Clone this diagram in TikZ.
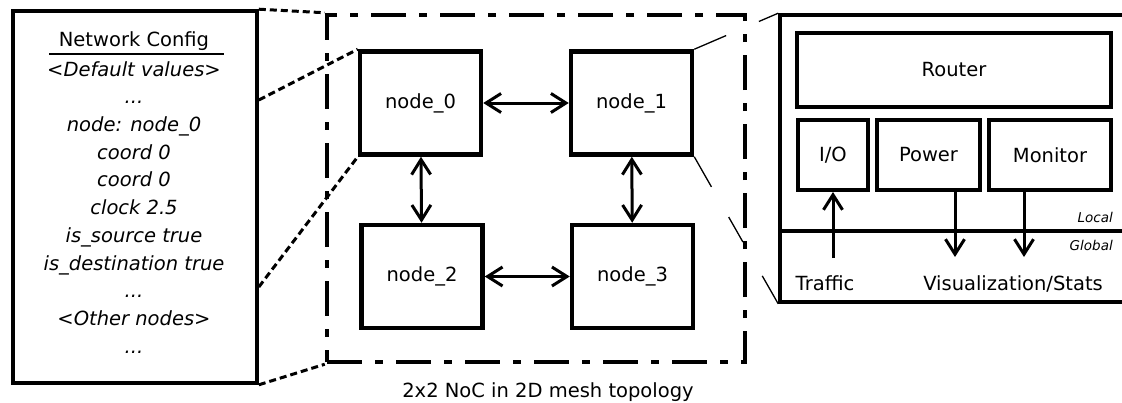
\documentclass[tikz,border=0pt]{standalone}
\usepackage{fontspec}
\setmainfont{DejaVu Sans}
\usetikzlibrary{arrows.meta,calc}
\begin{document}
\begin{tikzpicture}[x=1pt,y=-1pt,
  txt/.style={inner sep=0pt, font=\fontsize{19.5}{23}\selectfont},
  cfgline/.style={inner sep=0pt, anchor=base, font=\fontsize{19.5}{23}\selectfont\itshape},
  small/.style={inner sep=0pt, anchor=base east, font=\fontsize{13.5}{16}\selectfont\itshape},
  cfgbox/.style={draw, line width=3.6pt, minimum width=244pt, minimum height=372pt},
  meshbox/.style={draw, line width=4.5pt, dash pattern=on 35pt off 13pt on 8pt off 13pt, minimum width=418pt, minimum height=347pt},
  nocbox/.style={draw, line width=4.5pt, minimum width=121pt, minimum height=103pt, font=\fontsize{19.5}{23}\selectfont},
  rbox/.style={draw, line width=3.6pt, minimum width=360pt, minimum height=287pt},
  unitbox/.style={draw, line width=4pt, minimum height=70pt, font=\fontsize{19.5}{23}\selectfont},
  dashlink/.style={line width=3pt, dash pattern=on 7pt off 4pt},
  thinlink/.style={line width=1.3pt},
  tip/.style={Straight Barb[length=15pt,width=19pt]},
  arr/.style={line width=3pt, -{Straight Barb[length=15pt,width=19pt]}},
  darr/.style={line width=3pt, {Straight Barb[length=15pt,width=19pt]}-{Straight Barb[length=15pt,width=19pt]}}
]
\useasboundingbox (0,0) rectangle (1122,402);

% configuration panel
\node[cfgbox] (cfg) at (135,197) {};
\node[txt, anchor=base] (title) at (134,46.5) {Network Config};
\draw[line width=1.1pt] (49,54) -- (224,54);
\node[cfgline] (l1) at (134,76) {<Default values>};
\node[cfgline] (l2) at (134,103.7) {...};
\node[cfgline] (l3) at (134,131.4) {node: node\_0};
\node[cfgline] (l4) at (134,159) {coord 0};
\node[cfgline] (l5) at (134,186.8) {coord 0};
\node[cfgline] (l6) at (134,214.5) {clock 2.5};
\node[cfgline] (l7) at (134,242.2) {is\_source true};
\node[cfgline] (l8) at (134,270) {is\_destination true};
\node[cfgline] (l9) at (134,297.6) {...};
\node[cfgline] (l10) at (134,325.3) {<Other nodes>};
\node[cfgline] (l11) at (134,353) {...};

% mesh
\node[meshbox] (mesh) at (536,188.5) {};
\node[nocbox] (n0) at (420.5,103) {node\_0};
\node[nocbox] (n1) at (631.5,103) {node\_1};
\node[nocbox] (n2) at (422,276.5) {node\_2};
\node[nocbox] (n3) at (632.5,276.5) {node\_3};
\draw[darr] (n0) -- (n1);
\draw[darr] (n2) -- (n3);
\draw[darr] (n0) -- (n2);
\draw[darr] (n1) -- (n3);
\node[txt, anchor=base] (cap) at (548,397) {2x2 NoC in 2D mesh topology};

% node detail
\node[rbox] (rb) at (960,158.5) {};
\draw[line width=3.6pt] (rb.west |- 0,231) -- (rb.east |- 0,231);
\node[unitbox, minimum width=314pt, minimum height=74pt] (router) at (954,70) {Router};
\node[unitbox, minimum width=70pt] (io) at (833,155) {I/O};
\node[unitbox, minimum width=103pt] (pow) at (928.5,155) {Power};
\node[unitbox, minimum width=122pt] (mon) at (1050,155) {Monitor};
\coordinate (trf) at (833,258);
\coordinate (vis1) at (955,257);
\coordinate (vis2) at (1024,257);
\draw[arr] (trf) -- (io.south);
\draw[arr] (vis1 |- pow.south) -- (vis1);
\draw[arr] (vis2 |- mon.south) -- (vis2);
\node[small] (loc) at (1113,222.5) {Local};
\node[small] (glob) at (1113,250.5) {Global};
\node[txt, anchor=base] (traffic) at (825,290) {Traffic};
\node[txt, anchor=base] (vis) at (1013,290) {Visualization/Stats};

% zoom connectors
\draw[dashlink] (cfg.north east) -- (mesh.north west);
\draw[dashlink] (cfg.east |- 0,100) -- (n0.north west);
\draw[dashlink] (cfg.east |- 0,287) -- (n0.south west);
\draw[dashlink] (cfg.south east) -- (mesh.south west);
\draw[thinlink] (n1.north east) -- ($(n1.north east)!0.38!(rb.north west)$);
\draw[thinlink] ($(n1.north east)!0.77!(rb.north west)$) -- (rb.north west);
\draw[thinlink] (n1.south east) -- ($(n1.south east)!0.205!(rb.south west)$);
\draw[thinlink] ($(n1.south east)!0.41!(rb.south west)$) -- ($(n1.south east)!0.58!(rb.south west)$);
\draw[thinlink] ($(n1.south east)!0.81!(rb.south west)$) -- (rb.south west);
\end{tikzpicture}
\end{document}
